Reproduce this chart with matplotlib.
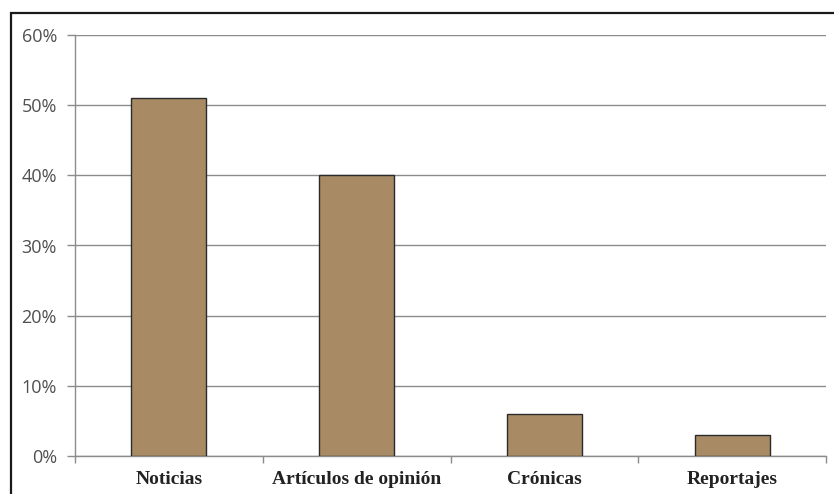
import matplotlib
matplotlib.use("Agg")
import matplotlib.pyplot as plt
from matplotlib.ticker import FuncFormatter, FixedLocator
from matplotlib.patches import Rectangle

categories = ["Noticias", "Artículos de opinión", "Crónicas", "Reportajes"]
values = [0.51, 0.40, 0.06, 0.03]
yticks = [0.0, 0.1, 0.2, 0.3, 0.4, 0.5, 0.6]

W, H = 834, 494
fig = plt.figure(figsize=(W / 100, H / 100), dpi=100)
fig.patch.set_facecolor("white")

# outer frame
fig.add_artist(Rectangle((10.5 / W, -0.01), 1.2, 1 - 13.5 / H + 0.01,
                         transform=fig.transFigure, fill=False,
                         edgecolor="#1a1a1a", linewidth=1.6))

ax = fig.add_axes([75 / W, 1 - 456 / H, (826 - 75) / W, (456 - 35) / H])
x = list(range(len(categories)))
ax.bar(x, values, width=0.4, color="#A88B65", edgecolor="#2b2b2b",
       linewidth=1.0, zorder=3)

ax.set_xlim(-0.5, len(categories) - 0.5)
ax.set_ylim(0, 0.6)
ax.set_yticks(yticks)
ax.yaxis.set_major_formatter(FuncFormatter(lambda v, p: f"{v * 100:.0f}%"))
ax.yaxis.grid(True, color="#8c8c8c", linewidth=1.0, zorder=0)
ax.set_axisbelow(True)

for s in ["top", "right"]:
    ax.spines[s].set_visible(False)
for s in ["left", "bottom"]:
    ax.spines[s].set_color("#8c8c8c")
    ax.spines[s].set_linewidth(1.0)

ax.tick_params(axis="y", length=6, color="#8c8c8c", width=1.0, pad=7,
               labelsize=13, labelcolor="#505050")
for lab in ax.get_yticklabels():
    lab.set_fontfamily("Open Sans")

# category boundary ticks, labels centred under each bar
ax.xaxis.set_major_locator(FixedLocator([i - 0.5 for i in range(len(categories) + 1)]))
ax.xaxis.set_major_formatter(FuncFormatter(lambda v, p: ""))
ax.tick_params(axis="x", length=5, color="#8c8c8c", width=1.0)
for i, c in enumerate(categories):
    ax.text(i, -0.033, c, ha="center", va="center", fontsize=14,
            fontweight="bold", family="Liberation Serif", color="#222222",
            transform=ax.transData, clip_on=False)

fig.savefig("out.png", dpi=100)
